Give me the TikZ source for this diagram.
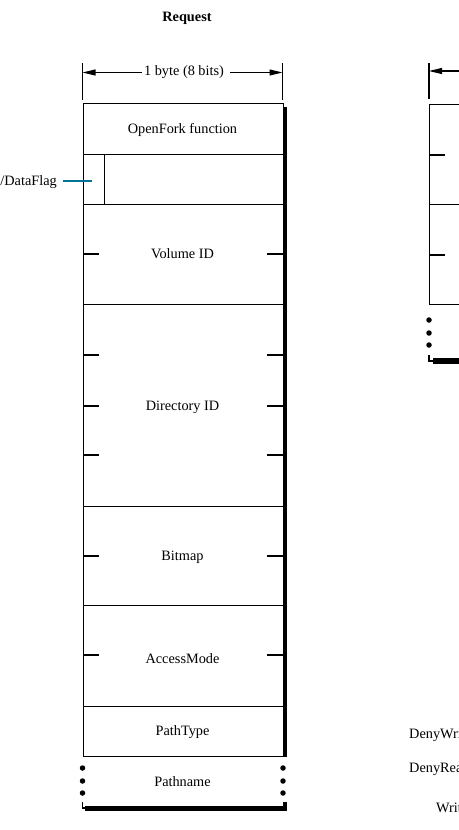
\documentclass[tikz,border=0pt]{standalone}
\usepackage{fontspec}
\setmainfont{Liberation Serif}
\usetikzlibrary{arrows.meta}
\definecolor{flagteal}{RGB}{0,115,150}
\begin{document}
\begin{tikzpicture}[x=1pt,y=-1pt,
  field/.style={draw, line width=1.1pt, inner sep=0pt, anchor=north west, minimum width=200pt},
  lbl/.style={font=\fontsize{14.3}{16}\selectfont, inner sep=0pt},
  rule/.style={line width=1.1pt},
  dimarrow/.style={line width=1.1pt, -{Triangle[length=13pt,width=6pt]}},
  shade/.style={fill=black, draw=none},
  dot/.style={circle, fill=black, inner sep=0pt, minimum size=5.5pt},
]
\useasboundingbox (0,0) rectangle (458,830);

% ---------- left diagram ----------
\node[lbl, font=\fontsize{14.3}{16}\selectfont\bfseries] (title) at (187,18) {Request};

\draw[rule] (82.5,63) -- (82.5,100);
\draw[rule] (282.5,63) -- (282.5,100);
\coordinate (bl) at (82.5,72.5);
\coordinate (br) at (282.5,72.5);
\node[lbl, inner sep=2pt] (bytes) at (184,72.5) {1 byte (8 bits)};
\draw[dimarrow] (bytes.west) -- (bl);
\draw[dimarrow] (bytes.east) ++(4,0) -- (br);

% shadow
\fill[shade] (282.5,107) rectangle (287,757);
\fill[shade] (85,805.5) rectangle (287,811);
\fill[shade] (283,802) rectangle (287,811);
\draw[rule] (82.5,802) -- (82.5,808) -- (86,808);

\node[field, minimum height=51pt] (openfork) at (82.5,103) {};
\node[field, minimum height=50pt] (flagrow) at (82.5,154) {};
\node[field, minimum width=21.5pt, minimum height=50pt] (flagbit) at (82.5,154) {};
\node[field, minimum height=100pt] (volume) at (82.5,204) {};
\node[field, minimum height=202pt] (directory) at (82.5,304) {};
\node[field, minimum height=99pt] (bitmap) at (82.5,506) {};
\node[field, minimum height=101pt] (access) at (82.5,605) {};
\node[field, minimum height=50pt] (pathtype) at (82.5,706) {};

\node[lbl] (t1) at (182.5,130) {OpenFork function};
\node[lbl] (t2) at (182.5,254) {Volume ID};
\node[lbl] (t3) at (182.5,407) {Directory ID};
\node[lbl] (t4) at (182.5,557) {Bitmap};
\node[lbl] (t5) at (182.5,659) {AccessMode};
\node[lbl] (t6) at (182.5,732) {PathType};
\node[lbl] (t7) at (182.5,782) {Pathname};

% byte ticks
\foreach \y in {254,355,406,455,556,655} {
  \draw[rule] (82.5,\y) -- ++(16,0);
  \draw[rule] (282.5,\y) -- ++(-16,0);
}

% continuation dots
\foreach \y in {768,781,793} {
  \node[dot] at (82.5,\y) {};
  \node[dot] at (283,\y) {};
}

% flag label
\node[lbl, anchor=east] (flaglbl) at (57,182) {Resource/DataFlag};
\coordinate (flagend) at (92,181);
\draw[flagteal, line width=1.2pt] (flaglbl.east) ++(6,-1) -- (flagend);

% ---------- right (partial) diagram ----------
\draw[rule] (429,63) -- (429,99);
\coordinate (rl) at (429,71);
\coordinate (rr) at (480,71);
\draw[dimarrow] (rr) -- (rl);

\fill[shade] (433,358) rectangle (470,363.5);
\draw[rule] (429,355) -- (429,361) -- (434,361);

\node[field, minimum width=100pt, minimum height=100pt] (rf1) at (429,104) {};
\node[field, minimum width=100pt, minimum height=100pt] (rf2) at (429,204) {};
\foreach \y in {155,255} {
  \draw[rule] (429,\y) -- ++(16,0);
}
\foreach \y in {320,333,345} {
  \node[dot] at (429,\y) {};
}

\node[lbl, anchor=west] (dw) at (409,735) {DenyWrite};
\node[lbl, anchor=west] (dr) at (409,769) {DenyRead};
\node[lbl, anchor=west] (wr) at (436,808) {Write};
\end{tikzpicture}
\end{document}
